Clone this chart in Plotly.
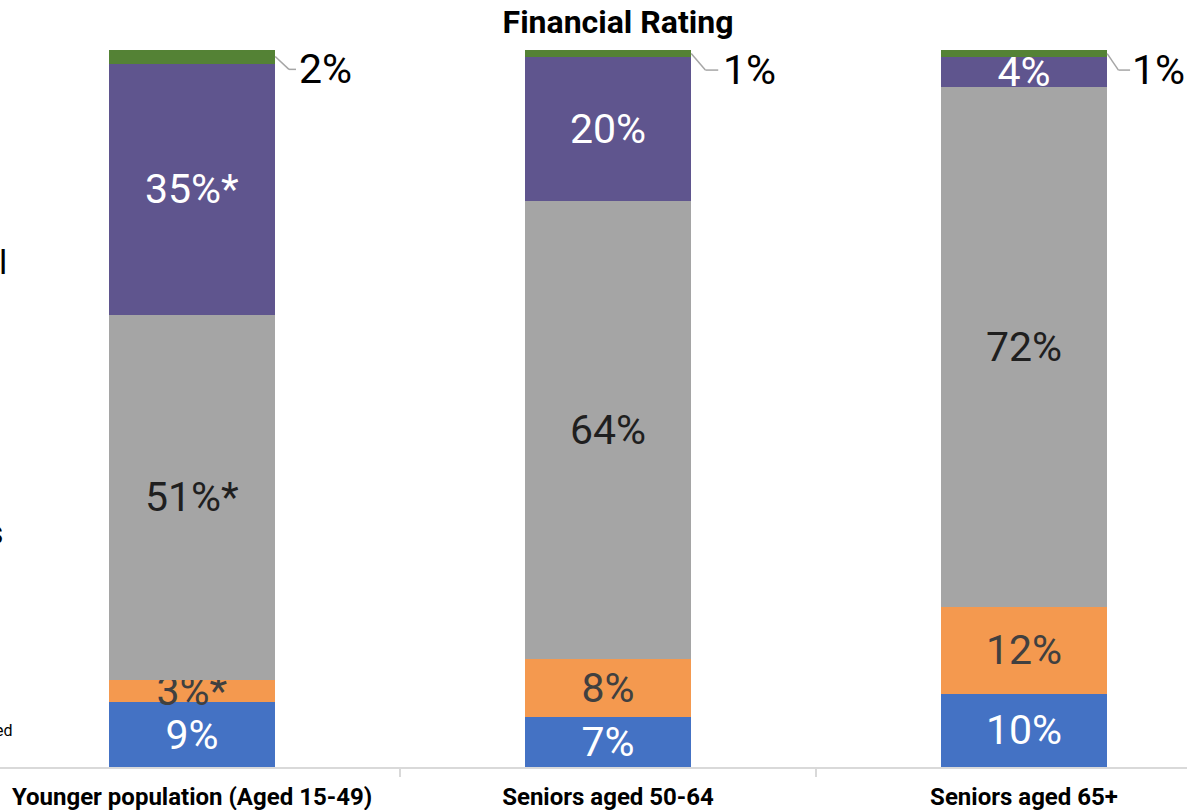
import plotly.graph_objects as go

categories = ["Younger population (Aged 15-49)", "Seniors aged 50-64", "Seniors aged 65+"]
series_names = ["Blue", "Orange", "Grey", "Purple", "Green"]

blue_vals = [9, 7, 10.2]
orange_vals = [3.1, 8.1, 12.1]
grey_vals = [51, 63.9, 72.5]
purple_vals = [35, 20, 4.2]
green_vals = [2, 1, 1]

blue_labels = ["9%", "7%", "10%"]
orange_labels = ["3%*", "8%", "12%"]
grey_labels = ["51%*", "64%", "72%"]
purple_labels = ["35%*", "20%", "4%"]
green_labels = ["2%", "1%", "1%"]

colors = ["#4472C4", "#F4994F", "#A5A5A5", "#5F558E", "#548235"]
text_colors = ["white", "#404040", "#1F1F1F", "white", "black"]

xs = list(range(len(categories)))
BAR_W = 0.4
FONT = "Roboto, Arial, sans-serif"
TXT = 41
# leader geometry per bar (in axis units from bar's right edge): elbow, line end, label start
leader_elbow = [0.033, 0.034, 0.027]
leader_end = [0.050, 0.065, 0.055]
label_start = [0.052, 0.072, 0.055]

fig = go.Figure()
series = [blue_vals, orange_vals, grey_vals, purple_vals, green_vals]
labels = [blue_labels, orange_labels, grey_labels, purple_labels, None]
for name, vals, labs, col, tcol in zip(series_names, series, labels, colors, text_colors):
    fig.add_trace(go.Bar(
        x=xs, y=vals, name=name, width=BAR_W,
        marker=dict(color=col, line=dict(width=0)),
        text=labs if labs else None,
        textposition="inside" if labs else "none",
        insidetextanchor="middle",
        textangle=0,
        textfont=dict(size=TXT, color=tcol, family=FONT),
        cliponaxis=False,
        hoverinfo="skip",
    ))

# outside labels for the thin top segment, with elbow leader lines
for i in xs:
    total = blue_vals[i] + orange_vals[i] + grey_vals[i] + purple_vals[i] + green_vals[i]
    start_y = total - green_vals[i] / 2
    lab_y = total - 2.8
    x0 = i + BAR_W / 2
    fig.add_shape(type="line", xref="x", yref="y", x0=x0, y0=start_y, x1=x0 + leader_elbow[i], y1=lab_y,
                  line=dict(color="#A6A6A6", width=1.5))
    fig.add_shape(type="line", xref="x", yref="y", x0=x0 + leader_elbow[i], y0=lab_y,
                  x1=x0 + leader_end[i], y1=lab_y, line=dict(color="#A6A6A6", width=1.5))
    fig.add_annotation(x=x0 + label_start[i], y=lab_y, xref="x", yref="y", text=green_labels[i],
                       showarrow=False, xanchor="left", yanchor="middle", xshift=0,
                       font=dict(size=TXT, color="black", family=FONT))

# clipped legend fragments at the left edge (paper = plot area 50..767 px)
def py(p):
    return (767 - p) / 717

fig.add_annotation(x=9 / 1187, y=py(262), xref="paper", yref="paper", text="l",
                   showarrow=False, xanchor="right", yanchor="middle",
                   font=dict(size=34, color="black", family=FONT))
fig.add_annotation(x=6 / 1187, y=py(532), xref="paper", yref="paper", text="s",
                   showarrow=False, xanchor="right", yanchor="middle",
                   font=dict(size=34, color="black", family=FONT))
fig.add_annotation(x=15 / 1187, y=py(730), xref="paper", yref="paper", text="ed",
                   showarrow=False, xanchor="right", yanchor="middle",
                   font=dict(size=16, color="black", family=FONT))

fig.update_layout(
    barmode="stack",
    width=1187, height=810,
    margin=dict(l=0, r=0, t=50, b=43),
    paper_bgcolor="white", plot_bgcolor="white",
    showlegend=False,
    uniformtext=dict(minsize=TXT, mode="show"),
    title=dict(text="<b>Financial Rating</b>", x=618 / 1187, xanchor="center",
               y=1 - 22 / 810, yanchor="middle", yref="container",
               font=dict(size=32, color="black", family=FONT)),
    xaxis=dict(
        range=[-192 / 416, (1187 - 192) / 416],
        tickmode="array", tickvals=xs, ticktext=["<b>%s</b>" % c for c in categories],
        tickfont=dict(size=24, color="black", family=FONT),
        ticks="", showgrid=False, zeroline=False,
        showline=True, linecolor="#D9D9D9", linewidth=2,
        minor=dict(tickmode="array", tickvals=[0.5, 1.5], ticks="outside",
                   ticklen=8, tickcolor="#D9D9D9", tickwidth=1.5, showgrid=False),
        ticklabelstandoff=7,
    ),
    yaxis=dict(range=[0, 100], visible=False, showgrid=False, zeroline=False),
)

fig.write_html("out.html", config={"displayModeBar": False},
               post_script="document.body.style.margin='0px';")
